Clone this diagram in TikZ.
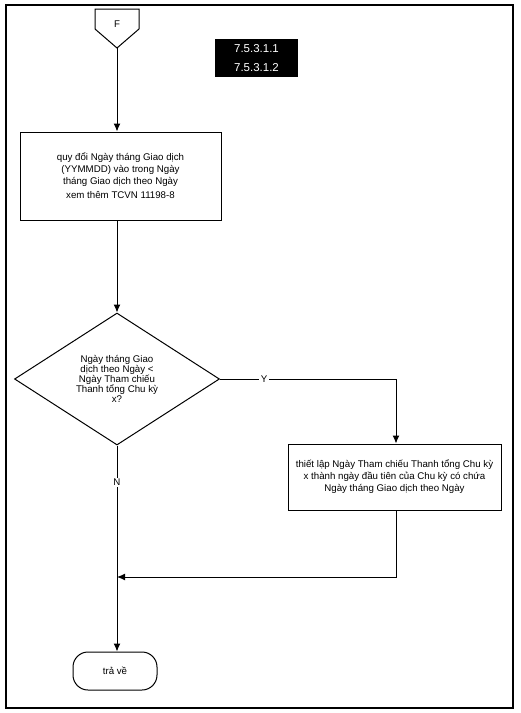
\documentclass[tikz,border=0pt]{standalone}
\usepackage{fontspec}
\setmainfont{Liberation Sans}
\usetikzlibrary{arrows.meta,shapes.geometric}
\begin{document}
\begin{tikzpicture}[x=1pt,y=-1pt,line width=1pt,>={Latex[length=8pt,width=7pt]},
    procbox/.style={draw,rectangle,align=center,font=\fontsize{9.7}{12}\selectfont},
    decbox/.style={draw,diamond,aspect=1.55,align=center,inner sep=0pt,font=\fontsize{9.7}{10}\selectfont},
    refbox/.style={fill=black,text=white,minimum width=83pt,minimum height=19pt,inner sep=0pt,font=\fontsize{11.5}{12}\selectfont},
    lbl/.style={fill=white,inner sep=1.5pt,font=\fontsize{9.7}{10}\selectfont}]
    \useasboundingbox (0,0) rectangle (521,713);
    \draw[line width=1.4pt] (6,5) rectangle (513,708);

    \draw (95,9) -- (139,9) -- (139,29) -- (117,48) -- (95,29) -- cycle;
    \node[font=\fontsize{9.7}{10}\selectfont] (F) at (117,24) {F};
    \coordinate (Ftip) at (117,48);

    \node[refbox] (ref1) at (256.5,48.5) {7.5.3.1.1};
    \node[refbox] (ref2) at (256.5,67.5) {7.5.3.1.2};

    \node[procbox,minimum width=201pt,minimum height=88pt] (conv) at (120.5,176)
        {quy đổi Ngày tháng Giao dịch\\(YYMMDD) vào trong Ngày\\tháng Giao dịch theo Ngày\\[2pt]xem thêm TCVN 11198-8};
    \node[decbox,minimum width=205pt,minimum height=132pt] (cmp) at (117,379)
        {Ngày tháng Giao\\dịch theo Ngày <\\Ngày Tham chiếu\\Thanh tổng Chu kỳ\\x?};
    \node[procbox,minimum width=213pt,minimum height=66pt] (setref) at (394.5,477)
        {thiết lập Ngày Tham chiếu Thanh tổng Chu kỳ\\x thành ngày đầu tiên của Chu kỳ có chứa\\Ngày tháng Giao dịch theo Ngày};
    \node[procbox,rounded corners=15pt,minimum width=84pt,minimum height=38pt] (ret) at (115,671) {trả về};
    \coordinate (corner) at (396,379);
    \coordinate (join) at (117,577);

    \draw[->] (Ftip) -- (Ftip |- conv.north);
    \draw[->] (cmp.north |- conv.south) -- (cmp.north);
    \draw[->] (cmp.east) -- node[lbl,pos=0.25] {Y} (corner) -- (corner |- setref.north);
    \draw[->] (corner |- setref.south) -- (corner |- join) -- (join);
    \draw[->] (cmp.south) -- node[lbl,pos=0.18] {N} (cmp.south |- ret.north);
\end{tikzpicture}
\end{document}
